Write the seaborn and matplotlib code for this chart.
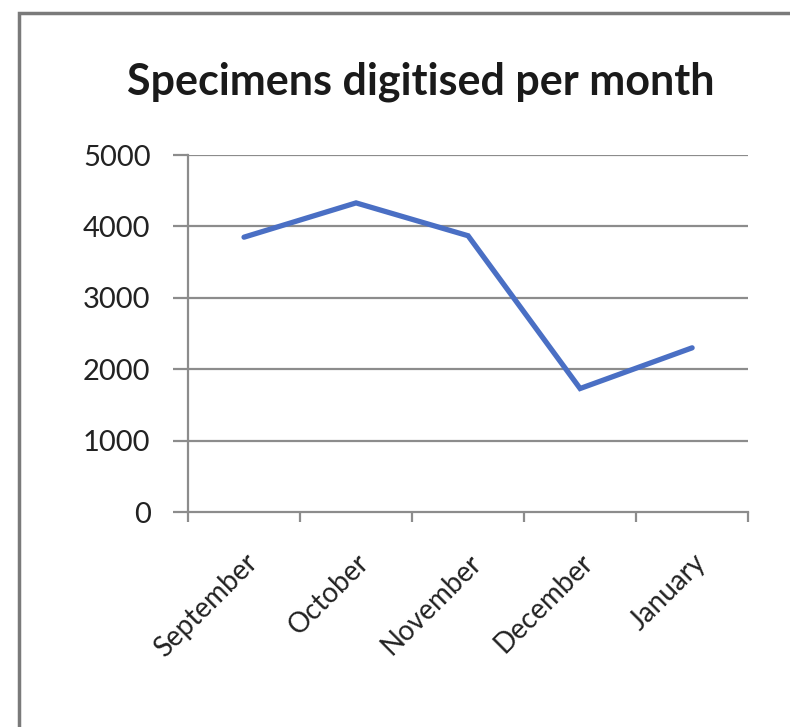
import matplotlib
matplotlib.use("Agg")
import matplotlib.pyplot as plt
import seaborn as sns
import pandas as pd
from matplotlib.patches import Rectangle

months = ["September", "October", "November", "December", "January"]
specimens = [3850, 4330, 3870, 1730, 2300]
y_ticks = [0, 1000, 2000, 3000, 4000, 5000]

sns.set_style("white")
plt.rcParams['font.family'] = ['Lato', 'DejaVu Sans']

df = pd.DataFrame({'month': months, 'specimens': specimens})
df['pos'] = range(len(months))

fig = plt.figure(figsize=(7.9, 7.27), dpi=100)
ax = fig.add_axes([0.238, 0.2957, 0.709, 0.491])

sns.lineplot(data=df, x='pos', y='specimens', color='#4a6fc4', linewidth=3.8,
             solid_joinstyle='miter', ax=ax)

grid_c = '#8c8c8c'
ax.set_xlim(-0.5, len(months) - 0.5)
ax.set_ylim(0, 5000)
ax.set_yticks(y_ticks)
ax.set_yticklabels([str(v) for v in y_ticks], fontsize=21, color='#222222')
for v in y_ticks[1:]:
    ax.axhline(v, color=grid_c, linewidth=1.6, zorder=0)

# category boundaries get the tick marks, labels sit between them
ax.set_xticks([i - 0.5 for i in range(len(months) + 1)])
ax.set_xticklabels([])
ax.set_xticks(range(len(months)), minor=True)
ax.set_xticklabels(months, minor=True, rotation=45, ha='right', va='top',
                   rotation_mode='anchor', fontsize=20, color='#222222')
ax.tick_params(axis='x', which='minor', length=0, pad=27)
ax.tick_params(axis='x', which='major', length=7, width=1.6, color=grid_c, direction='out')
ax.tick_params(axis='y', length=11, width=1.6, color=grid_c, direction='out', pad=16)
ax.tick_params(bottom=True, left=True)

for side in ['top', 'right']:
    ax.spines[side].set_visible(False)
for side in ['left', 'bottom']:
    ax.spines[side].set_color(grid_c)
    ax.spines[side].set_linewidth(1.6)

ax.set_xlabel('')
ax.set_ylabel('')

fig.text(0.532, 0.887, 'Specimens digitised per month', ha='center', va='center',
         fontsize=31, fontweight='bold', color='#1a1a1a')

# chart frame
fig.patches.append(Rectangle((0.024, -0.05), 1.2, 1.032, transform=fig.transFigure,
                             fill=False, edgecolor='#7a7a7a', linewidth=2.5))

fig.savefig('out.png', dpi=100)
